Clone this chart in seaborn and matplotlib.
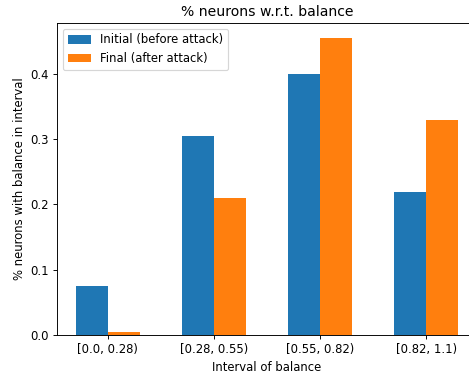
import matplotlib
matplotlib.use("Agg")
import matplotlib.pyplot as plt
import pandas as pd
import seaborn as sns

intervals = ["[0.0, 0.28)", "[0.28, 0.55)", "[0.55, 0.82)", "[0.82, 1.1)"]
initial = [0.075, 0.305, 0.400, 0.219]
final = [0.005, 0.210, 0.455, 0.330]
series_names = ["Initial (before attack)", "Final (after attack)"]
colors = ["#1f77b4", "#ff7f0e"]

DPI = 84


def build_frame() -> pd.DataFrame:
    rows = []
    for name, values in zip(series_names, [initial, final]):
        for interval, value in zip(intervals, values):
            rows.append({"interval": interval, "share": value, "series": name})
    return pd.DataFrame(rows)


def main() -> None:
    df = build_frame()

    # original looks like a bigger figure scaled down, so draw at a lower dpi
    fig = plt.figure(figsize=(469 / DPI, 374 / DPI), dpi=DPI)
    ax = fig.add_axes([57 / 469, 39 / 374, 420 / 469, 312 / 374])

    sns.barplot(
        data=df,
        x="interval",
        y="share",
        hue="series",
        hue_order=series_names,
        palette=colors,
        saturation=1,
        width=0.6,
        ax=ax,
    )

    ax.set_xlim(-0.48, 3.48)
    ax.set_ylim(0, 0.478)
    ax.set_title("% neurons w.r.t. balance")
    ax.set_xlabel("Interval of balance")
    ax.set_ylabel("% neurons with balance in interval")
    ax.legend(loc="upper left")

    fig.savefig("out.png", dpi=DPI)
    plt.close(fig)


if __name__ == "__main__":
    main()
